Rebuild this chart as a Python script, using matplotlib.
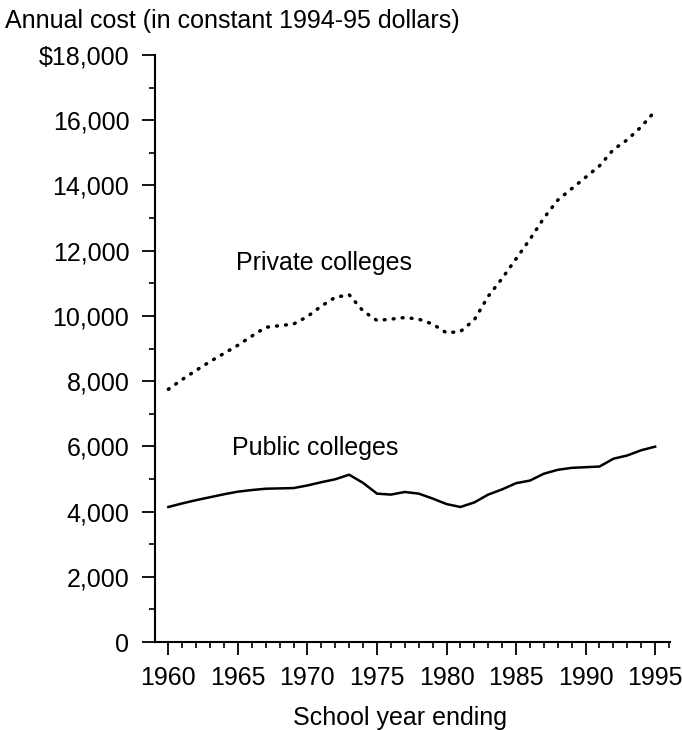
import matplotlib
matplotlib.use("Agg")
import matplotlib.pyplot as plt
from matplotlib.ticker import MultipleLocator, FuncFormatter

plt.rcParams['font.family'] = ['Liberation Sans', 'DejaVu Sans']

years = list(range(1960, 1996))
public = [4140, 4250, 4350, 4440, 4530, 4610, 4660, 4700, 4710, 4720,
          4800, 4900, 4990, 5130, 4880, 4550, 4520, 4600, 4550, 4400,
          4230, 4140, 4280, 4520, 4680, 4870, 4950, 5160, 5280, 5340,
          5360, 5380, 5620, 5720, 5880, 5990]
private = [7750, 8050, 8330, 8600, 8850, 9100, 9380, 9650, 9700, 9750,
           9980, 10300, 10570, 10650, 10150, 9860, 9900, 9950, 9900, 9750,
           9480, 9520, 9880, 10600, 11150, 11750, 12350, 13000, 13550, 13900,
           14250, 14600, 15100, 15400, 15800, 16280]
x_ticks = [1960, 1965, 1970, 1975, 1980, 1985, 1990, 1995]
y_ticks = [0, 2000, 4000, 6000, 8000, 10000, 12000, 14000, 16000, 18000]

W, H = 682, 730
fig = plt.figure(figsize=(W / 100, H / 100), dpi=100)
ax = fig.add_axes([155 / W, 1 - 642 / H, 515 / W, (642 - 55) / H])

ax.plot(years, public, color='black', lw=1.8, solid_joinstyle='round')
ax.plot(years, private, color='black', lw=2.5, linestyle=(0, (0.25, 2.35)),
        dash_capstyle='round')

ax.set_xlim(1959.04, 1996.07)
ax.set_ylim(0, 18000)

for s in ['top', 'right']:
    ax.spines[s].set_visible(False)
for s in ['left', 'bottom']:
    ax.spines[s].set_linewidth(1.5)

ax.set_xticks(x_ticks)
ax.set_yticks(y_ticks)
ax.xaxis.set_minor_locator(MultipleLocator(1))
ax.yaxis.set_minor_locator(MultipleLocator(1000))
ax.yaxis.set_major_formatter(FuncFormatter(
    lambda v, p: ('$' if v == 18000 else '') + f"{int(v):,}"))

ax.tick_params(axis='both', which='major', direction='out', length=9.5,
               width=1.3, labelsize=18, color='black')
ax.tick_params(axis='both', which='minor', direction='out', length=4,
               width=1.2, color='black')
ax.tick_params(axis='y', which='major', pad=9)
ax.tick_params(axis='x', which='major', pad=8)

ax.text(1964.87, 11630, 'Private colleges', fontsize=18, va='center', ha='left')
ax.text(1964.6, 5950, 'Public colleges', fontsize=18, va='center', ha='left')

fig.text(5 / W, 1 - 21 / H, 'Annual cost (in constant 1994-95 dollars)',
         fontsize=18, va='center', ha='left')
fig.text(400 / W, 1 - 718 / H, 'School year ending', fontsize=18,
         va='center', ha='center')

fig.savefig('out.png', dpi=100)
